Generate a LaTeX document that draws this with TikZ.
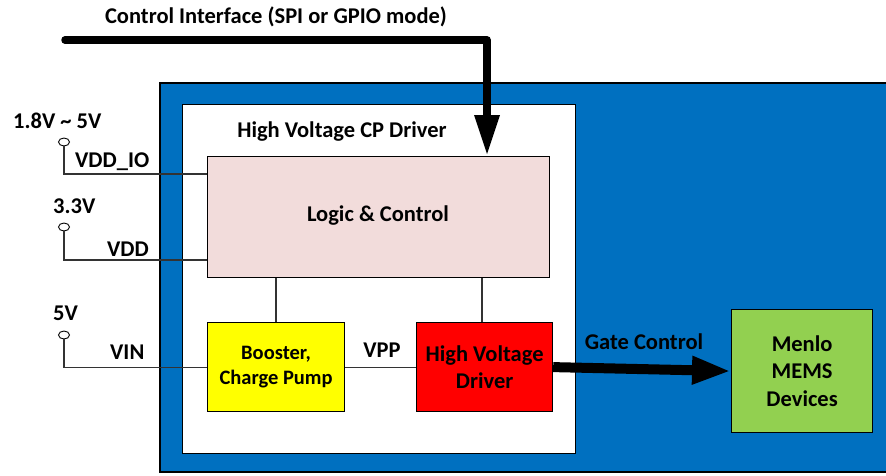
\documentclass[tikz,border=0pt]{standalone}
\usepackage{fontspec}
\setmainfont{Carlito}
\usetikzlibrary{arrows.meta,shapes.geometric}
\definecolor{mblue}{HTML}{0070C0}
\definecolor{mpink}{HTML}{F2DCDB}
\definecolor{mred}{HTML}{FF0000}
\definecolor{myellow}{HTML}{FFFF00}
\definecolor{mgreen}{HTML}{92D050}
\tikzset{
  blk/.style={draw=black, line width=1.2pt, inner sep=0pt, font=\bfseries\fontsize{22.5}{27.5}\selectfont, align=center},
  lbl/.style={font=\bfseries\fontsize{22.5}{27}\selectfont, inner sep=0pt},
  wire/.style={draw=black!80, line width=1.1pt},
  term/.style={ellipse, draw=black, line width=0.9pt, fill=white, minimum width=11pt, minimum height=8pt, inner sep=0pt},
}
\begin{document}
\begin{tikzpicture}[x=1pt,y=-1pt]
\useasboundingbox (0,0) rectangle (886,475);
% outer blue
\fill[mblue, draw=black, line width=1.8pt] (160,83) rectangle (900,472);
\node[draw=black, line width=1.2pt, fill=white, minimum width=393pt, minimum height=349pt, anchor=north west, inner sep=0pt] (inner) at (182,104) {};
\node[lbl, anchor=base] (title) at (342,137) {High Voltage CP Driver};
% blocks
\node[blk, fill=mpink, minimum width=342pt, minimum height=121pt, anchor=north west] (logic) at (207,156) {};
\node[lbl, anchor=base] (logtxt) at (378,221) {Logic \& Control};
\node[blk, fill=myellow, minimum width=137pt, minimum height=89pt, anchor=north west, font=\bfseries\fontsize{20.5}{25}\selectfont] (boost) at (207,322) {Booster,\\Charge Pump};
\node[blk, fill=mred, minimum width=136pt, minimum height=89pt, anchor=north west, font=\bfseries\fontsize{22.5}{27}\selectfont] (hvd) at (416,322) {High Voltage\\Driver};
\node[blk, fill=mgreen, minimum width=141pt, minimum height=123pt, anchor=north west] (mems) at (731,309) {Menlo\\MEMS\\Devices};
% internal wires
\draw[wire] (logic.south west) ++(69,0) coordinate (l1) -- (l1 |- boost.north);
\draw[wire] (logic.south west) ++(275,0) coordinate (l2) -- (l2 |- hvd.north);
\draw[wire] (boost.east) -- (hvd.west);
\node[lbl, anchor=base] (vpp) at (382,357) {VPP};
% gate control
\draw[line width=10pt, -{Triangle[length=39pt, width=26pt]}] (hvd.east) -- (mems.west);
\node[lbl, anchor=base] (gc) at (644,349) {Gate Control};
% control interface
\node[lbl, anchor=base] (ci) at (276,23) {Control Interface (SPI or GPIO mode)};
\coordinate (cis) at (65,40);
\coordinate (cic) at (487,40);
\coordinate (citip) at (487,154);
\draw[line width=7.5pt, line cap=round, line join=round] (cis) -- (cic) -- (487,118);
\fill (474,115) -- (500,115) -- (citip) -- cycle;
% terminals
\node[term] (t1) at (64,142) {};
\node[term] (t2) at (64,227) {};
\node[term] (t3) at (64,335) {};
\draw[wire] (t1.south) |- (logic.west |- 0,174);
\draw[wire] (t2.south) |- (logic.west |- 0,260);
\draw[wire] (t3.south) |- (boost.west);
\node[lbl, anchor=base west] (v1) at (13,128) {1.8V \textasciitilde{} 5V};
\node[lbl, anchor=base west] (n1) at (75,167) {VDD\_IO};
\node[lbl, anchor=base west] (v2) at (53,213) {3.3V};
\node[lbl, anchor=base west] (n2) at (107,256) {VDD};
\node[lbl, anchor=base west] (v3) at (53,320) {5V};
\node[lbl, anchor=base west] (n3) at (110,359) {VIN};
\end{tikzpicture}
\end{document}
